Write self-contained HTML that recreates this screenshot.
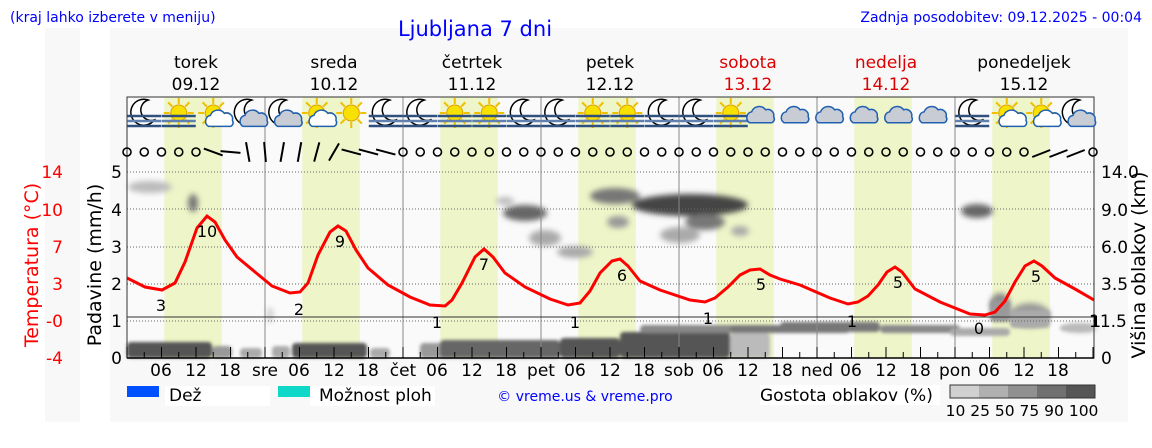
<!DOCTYPE html>
<html><head><meta charset="utf-8"><style>
body{margin:0;background:#fff;width:1152px;height:443px;overflow:hidden;font-family:"Liberation Sans","DejaVu Sans",sans-serif}
svg text{font-family:"DejaVu Sans","Liberation Sans",sans-serif}
</style></head><body>
<svg id="s" width="1152" height="443" xmlns="http://www.w3.org/2000/svg">
<defs><filter id="bl" x="-50%" y="-50%" width="200%" height="200%"><feGaussianBlur stdDeviation="3"/></filter>
<filter id="bl2" x="-20%" y="-50%" width="140%" height="200%"><feGaussianBlur stdDeviation="1.5"/></filter></defs>
<rect x="45" y="28" width="35" height="394" fill="#f8f8f8"/>
<rect x="110" y="28" width="1018" height="394" fill="#f8f8f8"/>
<rect x="127" y="97" width="967" height="261" fill="#fafafa"/>
<g id="bands"></g>
<g id="clouds" filter="url(#bl)"></g>
<g id="low" filter="url(#bl2)"></g>
<g id="grid"></g>
<line x1="127" y1="317" x2="1094" y2="317" stroke="#333" stroke-width="1"/>
<polyline fill="none" stroke="#f00" stroke-width="3" points="127,278 145,287 162,290 175,283 185,262 197,228 207,216 215,222 225,240 237,257 255,272 272,286 290,293 300,292 308,283 318,255 330,232 338,226 346,231 356,250 368,268 388,285 410,297 430,305 445,306 452,300 462,283 475,257 484,249 493,257 505,273 525,287 550,299 568,305 580,303 590,291 600,273 612,261 620,259 628,266 640,281 660,290 690,300 705,302 715,298 728,287 740,275 750,270 760,269 770,275 780,279 800,285 830,298 848,304 858,302 868,296 878,285 887,272 895,267 902,272 915,289 940,302 970,314 985,315 995,312 1005,301 1015,282 1025,266 1034,261 1042,266 1055,278 1075,289 1094,300"/>
<g font-size="16" fill="#000" text-anchor="middle">
<text x="161" y="311">3</text><text x="207" y="237">10</text><text x="299" y="315">2</text><text x="340" y="247">9</text>
<text x="437" y="328">1</text><text x="484" y="270">7</text><text x="575" y="328">1</text><text x="622" y="281">6</text>
<text x="708" y="324">1</text><text x="761" y="290">5</text><text x="852" y="327">1</text><text x="898" y="288">5</text>
<text x="979" y="334">0</text><text x="1036" y="282">5</text><text x="1096" y="327">1</text>
</g>
<rect x="127" y="97" width="967" height="261" fill="none" stroke="#333"/>
<g id="icons"></g>
<g id="wind" fill="none" stroke="#000" stroke-width="2"></g>
<g id="ticks" stroke="#000"></g>
<text x="10" y="22" font-size="14" fill="#00f">(kraj lahko izberete v meniju)</text>
<text x="475" y="36" font-size="21" fill="#00f" text-anchor="middle">Ljubljana 7 dni</text>
<text x="1142" y="22" font-size="14" fill="#00f" text-anchor="end">Zadnja posodobitev: 09.12.2025 - 00:04</text>
<g font-size="17" text-anchor="middle">
<text x="196" y="68">torek</text><text x="196" y="90">09.12</text>
<text x="334" y="68">sreda</text><text x="334" y="90">10.12</text>
<text x="472" y="68">četrtek</text><text x="472" y="90">11.12</text>
<text x="610" y="68">petek</text><text x="610" y="90">12.12</text>
<text x="748" y="68" fill="#d00">sobota</text><text x="748" y="90" fill="#d00">13.12</text>
<text x="886" y="68" fill="#d00">nedelja</text><text x="886" y="90" fill="#d00">14.12</text>
<text x="1024" y="68">ponedeljek</text><text x="1024" y="90">15.12</text>
</g>
<g font-size="17" text-anchor="end" fill="#000">
<text x="122" y="178">5</text><text x="122" y="216">4</text><text x="122" y="253">3</text><text x="122" y="290">2</text><text x="122" y="327">1</text><text x="122" y="364">0</text>
</g>
<g font-size="17" text-anchor="end" fill="#f00">
<text x="63" y="178">14</text><text x="63" y="216">10</text><text x="63" y="253">7</text><text x="63" y="290">3</text><text x="63" y="327">-0</text><text x="63" y="364">-4</text>
</g>
<g font-size="17" text-anchor="start" fill="#000">
<text x="1101" y="178">14.0</text><text x="1101" y="216">9.0</text><text x="1101" y="253">6.0</text><text x="1101" y="290">3.5</text><text x="1089" y="327">11.5</text><text x="1101" y="364">0</text>
</g>
<text transform="translate(38,265) rotate(-90)" font-size="19" fill="#f00" text-anchor="middle">Temperatura (°C)</text>
<text transform="translate(101,265) rotate(-90)" font-size="19" text-anchor="middle">Padavine (mm/h)</text>
<text transform="translate(1145,265) rotate(-90)" font-size="19" text-anchor="middle">Višina oblakov (km)</text>
<g font-size="17" text-anchor="middle">
<text x="161" y="376">06</text><text x="196" y="376">12</text><text x="230" y="376">18</text><text x="265" y="376">sre</text>
<text x="299" y="376">06</text><text x="334" y="376">12</text><text x="368" y="376">18</text><text x="403" y="376">čet</text>
<text x="437" y="376">06</text><text x="472" y="376">12</text><text x="506" y="376">18</text><text x="541" y="376">pet</text>
<text x="575" y="376">06</text><text x="610" y="376">12</text><text x="644" y="376">18</text><text x="679" y="376">sob</text>
<text x="713" y="376">06</text><text x="748" y="376">12</text><text x="782" y="376">18</text><text x="817" y="376">ned</text>
<text x="851" y="376">06</text><text x="886" y="376">12</text><text x="920" y="376">18</text><text x="955" y="376">pon</text>
<text x="989" y="376">06</text><text x="1024" y="376">12</text><text x="1058" y="376">18</text>
</g>
<rect x="127" y="386" width="32" height="11" fill="#0050ff"/>
<rect x="165" y="386" width="105" height="20" fill="#fff"/>
<text x="169" y="401" font-size="17">Dež</text>
<rect x="278" y="386" width="32" height="11" fill="#10d8c8"/>
<rect x="310" y="386" width="125" height="20" fill="#fff"/>
<text x="319" y="401" font-size="17">Možnost ploh</text>
<text x="585" y="401" font-size="14" fill="#00f" text-anchor="middle">© vreme.us &amp; vreme.pro</text>
<rect x="760" y="385" width="180" height="20" fill="#fff"/>
<text x="760" y="401" font-size="17">Gostota oblakov (%)</text>
<rect x="950" y="385" width="29" height="13" fill="#d0d0d0"/><rect x="979" y="385" width="29" height="13" fill="#b0b0b0"/>
<rect x="1008" y="385" width="29" height="13" fill="#909090"/><rect x="1037" y="385" width="29" height="13" fill="#707070"/>
<rect x="1066" y="385" width="29" height="13" fill="#555"/>
<rect x="950" y="385" width="145" height="13" fill="none" stroke="#333"/>
<text x="1022" y="416" font-size="15.5" text-anchor="middle">10 25 50 75 90 100</text>
</svg>
<script>
var N="http://www.w3.org/2000/svg";
function el(p,t,a){var e=document.createElementNS(N,t);for(var k in a)e.setAttribute(k,a[k]);document.getElementById(p).appendChild(e);return e;}
var X0=127,D=138,H=D/24;
for(var d=0;d<7;d++){el("bands","rect",{x:X0+d*D+6.5*H,y:97,width:10*H,height:261,fill:"#eef5c8"});}
[172,209,247,284,321].forEach(function(y){el("grid","line",{x1:127,x2:1094,y1:y,y2:y,stroke:"#666","stroke-dasharray":"1,2","stroke-width":1});});
for(var d=1;d<7;d++){el("grid","line",{x1:X0+d*D,x2:X0+d*D,y1:97,y2:358,stroke:"#888"});}
// upper clouds
var c=[[150,187,22,6,"#bbb"],[193,203,5,9,"#777"],[270,315,3,8,"#ccc"],[525,213,22,8,"#666"],[545,238,16,8,"#aaa"],[575,252,18,6,"#aaa"],[505,201,9,4,"#bbb"],[615,196,25,8,"#777"],[618,222,11,6,"#999"],[690,205,58,11,"#444"],[705,222,20,8,"#777"],[680,235,20,8,"#aaa"],[740,231,9,5,"#aaa"],[977,211,16,7,"#666"],[1000,305,10,12,"#888"],[1030,315,20,12,"#999"],[1080,328,16,4,"#aaa"]];
c.forEach(function(a){el("clouds","ellipse",{cx:a[0],cy:a[1],rx:a[2],ry:a[3],fill:a[4]});});
// low clouds (rects)
var r=[[127,342,85,16,"#555"],[212,346,20,12,"#999"],[240,348,22,10,"#aaa"],[272,346,18,12,"#aaa"],[292,343,75,15,"#555"],[370,348,20,10,"#aaa"],[420,343,40,15,"#999"],[440,340,120,18,"#666"],[560,338,60,20,"#555"],[620,332,110,26,"#555"],[640,325,100,8,"#888"],[730,325,120,8,"#777"],[730,333,40,25,"#bbb"],[780,322,100,10,"#777"],[880,325,80,8,"#888"],[950,328,60,8,"#aaa"],[990,300,20,22,"#999"],[1010,310,40,18,"#aaa"],[1060,325,34,6,"#bbb"]];
r.forEach(function(a){el("low","rect",{x:a[0],y:a[1],width:a[2],height:a[3],fill:a[4],rx:4});});
for(var i=0;i<=56;i++){var x=X0+i*3*H;el("ticks","line",{x1:x,x2:x,y1:358,y2:i%2?352:347,"stroke-width":1});}
el("ticks","line",{x1:127,x2:1094,y1:358,y2:358,"stroke-width":1.5});
var ang=[0,0,0,0,0,-20,-5,100,95,80,80,75,60,-15,-15,-15];
for(var i=0;i<=56;i++){var x=X0+i*3*H;
 if(i>=5&&i<=15){var a=ang[i]*Math.PI/180,dx=Math.cos(a)*10,dy=-Math.sin(a)*10;el("wind","line",{x1:x-dx,y1:152-dy,x2:x+dx,y2:152+dy});}
 else if(i>=53&&i<=55){el("wind","line",{x1:x-9,y1:157,x2:x+9,y2:150});}
 else el("wind","circle",{cx:x,cy:152,r:4,"stroke-width":1.6});}
var seq=["mf","sf","sc","mc","mc","sc","s","mf","mf","sf","sf","mf","mf","sf","sf","mf","mf","sf","c","c","c","c","c","c","mf","sc","sc","mc"];
seq.forEach(function(t,i){var x=X0+(i+0.5)*D/4,y=113;
 if(t[0]=="s"){for(var k=0;k<8;k++){var a=k*Math.PI/4;el("icons","line",{x1:x+Math.cos(a)*9,y1:y+Math.sin(a)*9,x2:x+Math.cos(a)*15,y2:y+Math.sin(a)*15,stroke:"#f0c000","stroke-width":2});}
  el("icons","circle",{cx:x,cy:y,r:8,fill:"#f8e000",stroke:"#e0a000"});}
 if(t[0]=="m"){el("icons","path",{d:"M"+(x+4)+","+(y-13)+" a13,13 0 1,0 6,20 a10,10 0 0,1 -6,-20z",fill:"#fff",stroke:"#000","stroke-width":1.5});}
 if(t=="c"||t[1]=="c"){var cx=t=="c"?x:x+6,cy=t=="c"?y+2:y+8,s=t=="c"?1.3:0.9;
  el("icons","path",{d:"M"+(cx-12*s)+","+(cy+6*s)+" a6,6 0 0,1 2,-11 a8,8 0 0,1 14,-2 a6,6 0 0,1 8,7 a4,4 0 0,1 -2,6z",fill:t[0]=="m"||t=="c"?"#c8ccd4":"#fff",stroke:"#2060b0","stroke-width":1.5});}
 if(t[1]=="f"){[116,121,126].forEach(function(yy,j){el("icons","line",{x1:x-17,x2:x+17,y1:yy,y2:yy,stroke:j==1?"#6080b0":"#305080","stroke-width":2.5});});}
});
</script>
</body></html>
